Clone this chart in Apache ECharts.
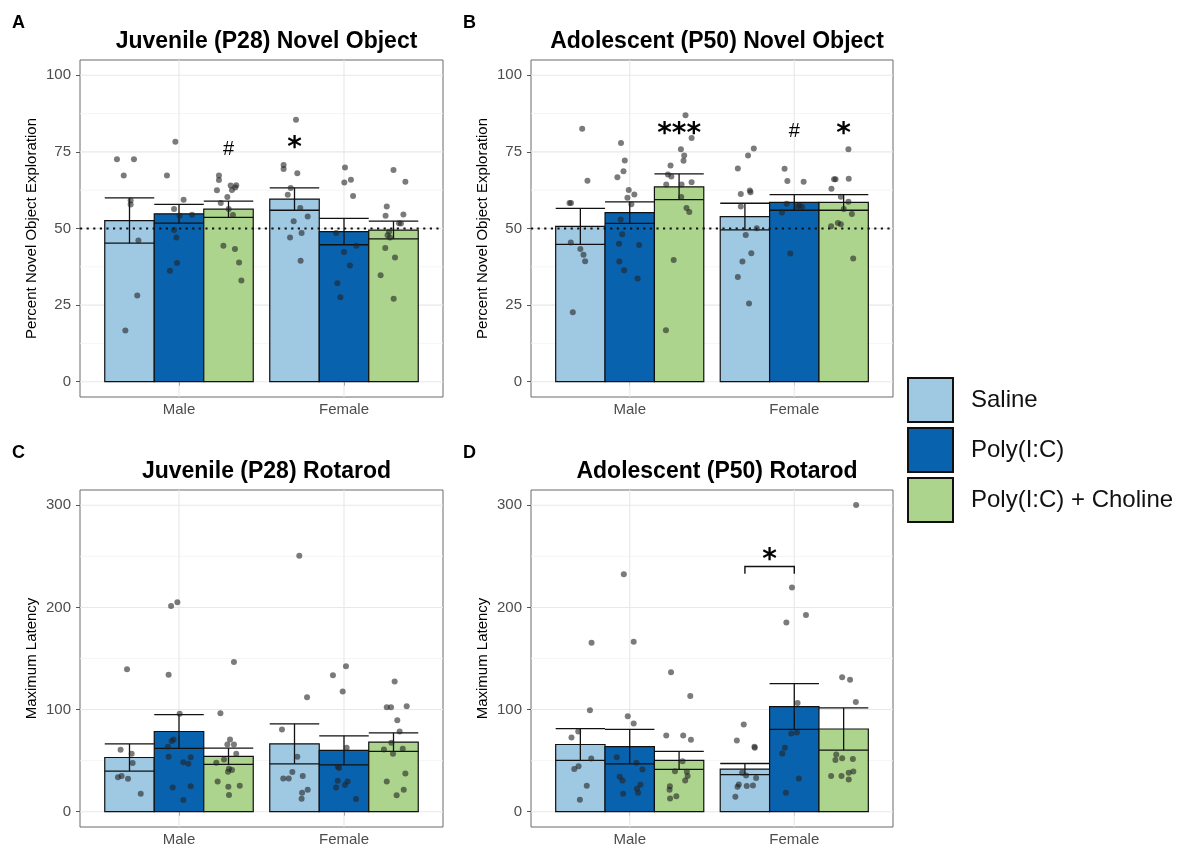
<!DOCTYPE html>
<html><head><meta charset="utf-8">
<script src="https://cdn.jsdelivr.net/npm/echarts@6/dist/echarts.min.js"></script>
<style>html,body{margin:0;padding:0;background:#fff}#c{width:1185px;height:849px}</style>
</head><body><div id="c"></div>
<script>
// ---------- categories / labels ----------
const sexLabels = ['Male', 'Female'];
const groupNames = ['Saline', 'Poly(I:C)', 'Poly(I:C) + Choline'];
const noTicks = [0, 25, 50, 75, 100];
const noMinor = [12.5, 37.5, 62.5, 87.5];
const rrTicks = [0, 100, 200, 300];
const rrMinor = [50, 150, 250];

// ---------- means / SEM  [sex][group] ----------
const juvNO_mean = [[52.6, 54.8, 56.3], [59.6, 49.0, 49.5]];
const juvNO_sem  = [[7.4, 3.05, 2.65], [3.65, 4.3, 2.9]];
const adoNO_mean = [[50.7, 55.2, 63.6], [53.9, 58.5, 58.5]];
const adoNO_sem  = [[5.9, 3.5, 4.2], [4.35, 2.55, 2.55]];
const juvRR_mean = [[53.05, 78.5, 54.25], [66.45, 60.1, 68.1]];
const juvRR_sem  = [[13.35, 16.6, 7.95], [19.55, 14.2, 9.1]];
const adoRR_mean = [[65.8, 63.7, 50.2], [41.7, 102.95, 80.95]];
const adoRR_sem  = [[15.6, 16.8, 8.8], [5.5, 22.45, 20.65]];

// ---------- individual animals: [jitter, value] ----------
const juvNO_male_saline = [[-0.076,72.6],[0.027,72.6],[-0.035,67.3],[0.007,59.1],[0.007,57.8],[0.054,46.1],[0.047,28.1],[-0.025,16.7]];
const juvNO_male_poly = [[-0.022,78.3],[-0.073,67.3],[0.028,59.4],[-0.030,56.4],[0.079,54.5],[0.004,54.2],[-0.030,49.5],[-0.016,47.1],[-0.012,38.7],[-0.055,36.2]];
const juvNO_male_choline = [[-0.058,67.3],[-0.058,65.8],[-0.070,62.5],[0.013,64.0],[0.047,64.1],[0.041,63.4],[0.021,62.6],[-0.007,60.3],[-0.047,58.3],[0.001,56.4],[0.027,54.4],[-0.031,44.4],[0.039,43.3],[0.064,38.9],[0.078,33.0]];
const juvNO_female_saline = [[0.009,85.5],[-0.066,70.7],[-0.066,69.4],[0.017,68.0],[-0.023,63.2],[-0.041,61.0],[0.035,56.7],[0.080,53.9],[-0.005,52.4],[0.043,48.5],[-0.027,47.1],[0.037,39.5]];
const juvNO_female_poly = [[0.006,69.9],[0.042,65.9],[0.002,65.0],[0.055,60.6],[-0.048,48.5],[0.075,44.4],[0.000,42.3],[0.036,37.9],[-0.040,32.1],[-0.022,27.6]];
const juvNO_female_choline = [[0.000,69.1],[0.072,65.3],[-0.041,57.2],[0.060,54.6],[-0.048,54.2],[0.033,51.7],[0.045,51.6],[-0.027,48.9],[-0.036,47.8],[-0.021,47.1],[-0.050,43.6],[0.009,40.5],[-0.078,34.7],[0.001,27.1]];

const adoNO_male_saline = [[0.011,82.6],[0.043,65.6],[-0.066,58.3],[-0.057,58.3],[-0.058,45.4],[0.000,43.3],[0.019,41.4],[0.029,39.3],[-0.046,22.7]];
const adoNO_male_poly = [[-0.053,77.9],[-0.030,72.2],[-0.038,68.7],[-0.075,66.7],[-0.006,62.6],[0.028,61.1],[-0.014,60.0],[0.010,57.9],[-0.055,52.9],[-0.046,48.1],[-0.065,45.0],[0.057,44.6],[-0.063,39.2],[-0.034,36.4],[0.048,33.7]];
const adoNO_male_choline = [[0.039,87.0],[0.076,79.5],[0.011,75.9],[0.031,73.8],[0.027,72.1],[-0.052,70.6],[-0.068,67.6],[-0.047,67.0],[-0.078,64.4],[0.015,64.4],[0.076,65.1],[0.013,60.3],[0.045,56.7],[0.062,55.4],[-0.033,39.7],[-0.080,16.8]];
const adoNO_female_saline = [[0.054,76.1],[0.019,73.8],[-0.043,69.6],[-0.025,61.3],[0.030,62.4],[0.034,61.8],[-0.025,57.2],[0.072,50.1],[0.005,47.9],[0.039,41.9],[-0.015,39.2],[-0.043,34.2],[0.025,25.5]];
const adoNO_female_poly = [[-0.059,69.5],[-0.042,65.5],[0.057,65.3],[-0.046,58.1],[0.032,57.5],[0.048,57.0],[0.020,57.2],[-0.075,55.2],[-0.024,41.8]];
const adoNO_female_choline = [[0.029,75.9],[-0.058,66.1],[-0.049,66.1],[0.031,66.2],[-0.074,63.0],[-0.017,60.4],[0.029,58.7],[0.001,56.4],[0.050,54.7],[-0.076,50.7],[-0.035,51.8],[-0.017,51.4],[0.058,40.2]];

const juvRR_male_saline = [[-0.015,139.4],[-0.054,60.6],[0.013,56.7],[0.019,47.6],[-0.070,33.6],[-0.048,34.9],[-0.009,32.2],[0.068,17.6]];
const juvRR_male_poly = [[-0.010,205.2],[-0.048,201.3],[-0.063,134.2],[0.004,95.8],[-0.033,70.7],[-0.044,69.1],[-0.067,63.5],[-0.063,53.7],[0.071,53.4],[0.026,48.5],[0.057,46.9],[-0.038,23.8],[0.071,24.8],[0.026,11.4]];
const juvRR_male_choline = [[0.033,146.6],[-0.049,96.4],[0.009,70.7],[0.033,65.8],[-0.007,65.8],[0.047,56.7],[-0.074,47.9],[-0.027,51.1],[0.003,42.0],[-0.003,39.1],[0.021,40.7],[-0.066,29.6],[-0.001,24.4],[0.068,25.4],[0.003,16.3]];
const juvRR_female_saline = [[0.029,250.5],[0.076,112.1],[-0.076,80.5],[0.017,53.7],[-0.013,38.8],[-0.068,32.6],[-0.035,32.6],[0.050,34.9],[0.046,18.6],[0.080,21.5],[0.043,12.7]];
const juvRR_female_poly = [[0.012,142.3],[-0.067,133.6],[-0.008,117.6],[0.016,62.5],[-0.038,44.0],[-0.030,42.7],[-0.038,30.3],[0.022,29.6],[0.006,26.1],[-0.048,23.8],[0.073,12.4]];
const juvRR_female_choline = [[0.007,127.4],[-0.041,102.3],[-0.015,102.3],[0.080,103.3],[0.023,89.6],[0.037,78.5],[-0.013,67.4],[-0.058,60.9],[0.056,61.6],[-0.003,56.7],[0.072,37.5],[-0.041,29.6],[0.062,21.5],[0.019,16.0]];

const adoRR_male_saline = [[0.068,165.5],[0.058,99.3],[-0.054,72.6],[-0.013,78.5],[0.066,52.1],[-0.037,41.7],[-0.011,44.6],[0.039,25.4],[-0.003,11.7]];
const adoRR_male_poly = [[-0.036,232.6],[0.024,166.4],[-0.012,93.5],[0.024,86.3],[-0.079,53.4],[-0.061,34.2],[-0.044,30.6],[0.040,47.9],[0.077,41.4],[0.065,26.4],[0.044,22.5],[0.051,18.6],[-0.040,17.6]];
const adoRR_male_choline = [[-0.049,136.5],[0.068,113.4],[-0.078,74.6],[0.025,74.6],[0.072,70.4],[0.021,49.5],[-0.025,39.7],[0.047,39.1],[0.052,34.9],[0.037,30.6],[-0.056,24.8],[-0.058,21.5],[-0.017,15.0],[-0.055,13.0]];
const adoRR_female_saline = [[-0.007,85.3],[-0.049,69.7],[0.058,63.5],[0.060,62.5],[-0.017,38.1],[0.007,35.5],[0.068,32.9],[-0.037,26.7],[-0.045,24.4],[0.011,25.1],[0.049,25.7],[-0.058,14.7]];
const adoRR_female_poly = [[-0.014,219.5],[-0.048,185.3],[0.071,192.5],[0.020,106.5],[-0.018,76.5],[0.016,77.5],[-0.057,62.5],[-0.073,57.0],[0.028,32.6],[-0.051,18.6]];
const adoRR_female_choline = [[0.076,300.3],[-0.009,131.6],[0.039,129.3],[0.074,107.5],[-0.045,56.0],[-0.050,50.5],[-0.009,52.4],[0.056,51.5],[-0.076,34.9],[-0.013,34.9],[0.031,38.1],[0.059,39.4],[0.031,31.6]];

// ---------- significance marks: [x, y, text] ----------
const juvNO_marks = [[1.3, 76.2, '#'], [1.7, 77.9, '*']];
const adoNO_marks = [[1.3, 82.7, '***'], [2.0, 81.9, '#'], [2.3, 82.7, '*']];
const juvRR_marks = [];
const adoRR_marks = [[1.85, 251.5, '*']];
const adoRR_bracket = [[1.7, 2.0, 240.1, 232.9]];

// ---------- styling / layout ----------
const FONT = '"Liberation Sans", Arial, Helvetica, sans-serif';
const groupColors = ['#9fc8e3', '#0962ad', '#acd48c'];
const groupOffsets = [-0.3, 0, 0.3];
const halfBar = 0.15;
const gridPos = [
  {left: 80, top: 60, width: 363, height: 337},
  {left: 531, top: 60, width: 362, height: 337},
  {left: 80, top: 490, width: 363, height: 337},
  {left: 531, top: 490, width: 362, height: 337}
];
const panels = [
  {letter: 'A', title: 'Juvenile (P28) Novel Object', yName: 'Percent Novel Object Exploration',
   mean: juvNO_mean, sem: juvNO_sem, ymin: -5, ymax: 105, ticks: noTicks, minor: noMinor, ref: [50],
   pts: [[juvNO_male_saline, juvNO_male_poly, juvNO_male_choline], [juvNO_female_saline, juvNO_female_poly, juvNO_female_choline]],
   marks: juvNO_marks, brackets: []},
  {letter: 'B', title: 'Adolescent (P50) Novel Object', yName: 'Percent Novel Object Exploration',
   mean: adoNO_mean, sem: adoNO_sem, ymin: -5, ymax: 105, ticks: noTicks, minor: noMinor, ref: [50],
   pts: [[adoNO_male_saline, adoNO_male_poly, adoNO_male_choline], [adoNO_female_saline, adoNO_female_poly, adoNO_female_choline]],
   marks: adoNO_marks, brackets: []},
  {letter: 'C', title: 'Juvenile (P28) Rotarod', yName: 'Maximum Latency',
   mean: juvRR_mean, sem: juvRR_sem, ymin: -15, ymax: 315, ticks: rrTicks, minor: rrMinor, ref: [],
   pts: [[juvRR_male_saline, juvRR_male_poly, juvRR_male_choline], [juvRR_female_saline, juvRR_female_poly, juvRR_female_choline]],
   marks: juvRR_marks, brackets: []},
  {letter: 'D', title: 'Adolescent (P50) Rotarod', yName: 'Maximum Latency',
   mean: adoRR_mean, sem: adoRR_sem, ymin: -15, ymax: 315, ticks: rrTicks, minor: rrMinor, ref: [],
   pts: [[adoRR_male_saline, adoRR_male_poly, adoRR_male_choline], [adoRR_female_saline, adoRR_female_poly, adoRR_female_choline]],
   marks: adoRR_marks, brackets: adoRR_bracket}
];

const grids = [], xAxes = [], yAxes = [], series = [], titles = [];

panels.forEach((p, pi) => {
  const gp = gridPos[pi];
  grids.push(Object.assign({show: true, borderColor: '#6a6a6a', borderWidth: 1, backgroundColor: '#fff', containLabel: false}, gp));
  titles.push({text: p.title, left: gp.left + gp.width / 2, top: gp.top - 35, textAlign: 'center',
    textStyle: {fontSize: 23, fontWeight: 'bold', color: '#000', fontFamily: FONT}});
  titles.push({text: p.letter, left: pi % 2 === 0 ? 7 : 458, top: gp.top - 51,
    textStyle: {fontSize: 18, fontWeight: 'bold', color: '#000', fontFamily: FONT}});
  xAxes.push({type: 'value', gridIndex: pi, min: 0.4, max: 2.6,
    axisLine: {show: false}, splitLine: {show: false},
    axisTick: {show: true, customValues: [1, 2], length: 4, lineStyle: {color: '#555', width: 1}},
    axisLabel: {customValues: [1, 2], formatter: v => sexLabels[Math.round(v) - 1], fontSize: 15, color: '#4d4d4d', margin: 5, fontFamily: FONT}});
  yAxes.push({type: 'value', gridIndex: pi, min: p.ymin, max: p.ymax,
    axisLine: {show: false}, splitLine: {show: false},
    axisTick: {show: true, customValues: p.ticks, length: 4, lineStyle: {color: '#555', width: 1}},
    axisLabel: {customValues: p.ticks, fontSize: 15, color: '#4d4d4d', margin: 9, fontFamily: FONT},
    name: p.yName, nameLocation: 'middle', nameGap: 41,
    nameTextStyle: {fontSize: 15, color: '#000', fontFamily: FONT}});

  // grid lines (major / minor horizontal, vertical at categories)
  const gl = [];
  p.ticks.forEach(v => gl.push([0, v]));
  p.minor.forEach(v => gl.push([1, v]));
  [1, 2].forEach(v => gl.push([2, v]));
  series.push({type: 'custom', xAxisIndex: pi, yAxisIndex: pi, z: 1, silent: true, data: gl,
    renderItem: (params, api) => {
      const kind = api.value(0), v = api.value(1), cs = params.coordSys;
      if (kind === 2) {
        const x = api.coord([v, 0])[0];
        return {type: 'line', shape: {x1: x, y1: cs.y, x2: x, y2: cs.y + cs.height}, style: {stroke: '#e8e8e8', lineWidth: 1.1}};
      }
      const y = api.coord([1, v])[1];
      return {type: 'line', shape: {x1: cs.x, y1: y, x2: cs.x + cs.width, y2: y},
        style: kind === 0 ? {stroke: '#e8e8e8', lineWidth: 1.1} : {stroke: '#f2f2f2', lineWidth: 0.8}};
    }});

  // bars with error bars
  groupNames.forEach((gname, g) => {
    series.push({type: 'custom', name: gname, xAxisIndex: pi, yAxisIndex: pi, z: 2, silent: true,
      itemStyle: {color: groupColors[g]},
      data: [0, 1].map(s => [s + 1, p.mean[s][g], p.sem[s][g]]),
      renderItem: (params, api) => {
        const xc = api.value(0) + groupOffsets[g], m = api.value(1), se = api.value(2);
        const b0 = api.coord([xc - halfBar, 0]), b1 = api.coord([xc + halfBar, m]);
        const top = api.coord([xc, m + se]), bot = api.coord([xc, m - se]);
        const L = b0[0], R = b1[0];
        const ls = {stroke: '#111', lineWidth: 1.3};
        return {type: 'group', children: [
          {type: 'rect', shape: {x: L, y: b1[1], width: R - L, height: b0[1] - b1[1]}, style: {fill: groupColors[g], stroke: '#111', lineWidth: 1.2}},
          {type: 'line', shape: {x1: top[0], y1: top[1], x2: bot[0], y2: bot[1]}, style: ls},
          {type: 'line', shape: {x1: L, y1: top[1], x2: R, y2: top[1]}, style: ls},
          {type: 'line', shape: {x1: L, y1: bot[1], x2: R, y2: bot[1]}, style: ls}
        ]};
      }});
  });

  // dotted chance line
  if (p.ref.length) {
    series.push({type: 'custom', xAxisIndex: pi, yAxisIndex: pi, z: 3, silent: true, data: p.ref.map(v => [1, v]),
      renderItem: (params, api) => {
        const cs = params.coordSys, y = api.coord([1, api.value(1)])[1];
        return {type: 'line', shape: {x1: cs.x, y1: y, x2: cs.x + cs.width, y2: y},
          style: {stroke: '#111', lineWidth: 2.2, lineDash: [2.2, 4.4]}};
      }});
  }

  // individual points
  const sd = [];
  [0, 1].forEach(s => [0, 1, 2].forEach(g => p.pts[s][g].forEach(([j, v]) => sd.push([s + 1 + groupOffsets[g] + j, v]))));
  series.push({type: 'scatter', xAxisIndex: pi, yAxisIndex: pi, z: 4, silent: true, symbolSize: 6, data: sd,
    itemStyle: {color: 'rgba(35,35,35,0.75)'}});

  // significance marks and brackets
  if (p.marks.length || p.brackets.length) {
    const marks = p.marks;
    series.push({type: 'custom', xAxisIndex: pi, yAxisIndex: pi, z: 5, silent: true,
      data: marks.map(m => [m[0], m[1]]),
      renderItem: (params, api) => {
        const m = marks[params.dataIndex];
        const c = api.coord([m[0], m[1]]);
        const star = m[2].indexOf('*') >= 0;
        const fs = star ? 28 : 20;
        return {type: 'text', x: c[0], y: c[1] + (star ? 0.22 * fs : 0.06 * fs),
          style: {text: m[2], fontSize: fs, fontWeight: star ? 'bold' : 'normal',
            fontFamily: star ? '"DejaVu Sans", sans-serif' : FONT, fill: '#000', align: 'center', verticalAlign: 'middle'}};
      }});
    const br = p.brackets;
    if (br.length) {
      series.push({type: 'custom', xAxisIndex: pi, yAxisIndex: pi, z: 5, silent: true,
        data: br.map(b => [b[0], b[2]]),
        renderItem: (params, api) => {
          const b = br[params.dataIndex];
          const a1 = api.coord([b[0], b[3]]), a2 = api.coord([b[0], b[2]]), a3 = api.coord([b[1], b[2]]), a4 = api.coord([b[1], b[3]]);
          return {type: 'polyline', shape: {points: [a1, a2, a3, a4]}, style: {stroke: '#111', lineWidth: 1.4, fill: null}};
        }});
    }
  }
});

const chart = echarts.init(document.getElementById('c'), null, {renderer: 'canvas'});
chart.setOption({
  animation: false,
  backgroundColor: '#fff',
  title: titles,
  grid: grids,
  xAxis: xAxes,
  yAxis: yAxes,
  legend: {
    orient: 'vertical', left: 902, top: 372, itemWidth: 45, itemHeight: 44, itemGap: 4,
    selectedMode: false,
    data: groupNames.map((n, i) => ({name: n, icon: 'rect', itemStyle: {color: groupColors[i], borderColor: '#111', borderWidth: 2}})),
    textStyle: {fontSize: 24, color: '#111', fontFamily: FONT, padding: [0, 0, 0, 13]}
  },
  series: series
});
</script></body></html>
